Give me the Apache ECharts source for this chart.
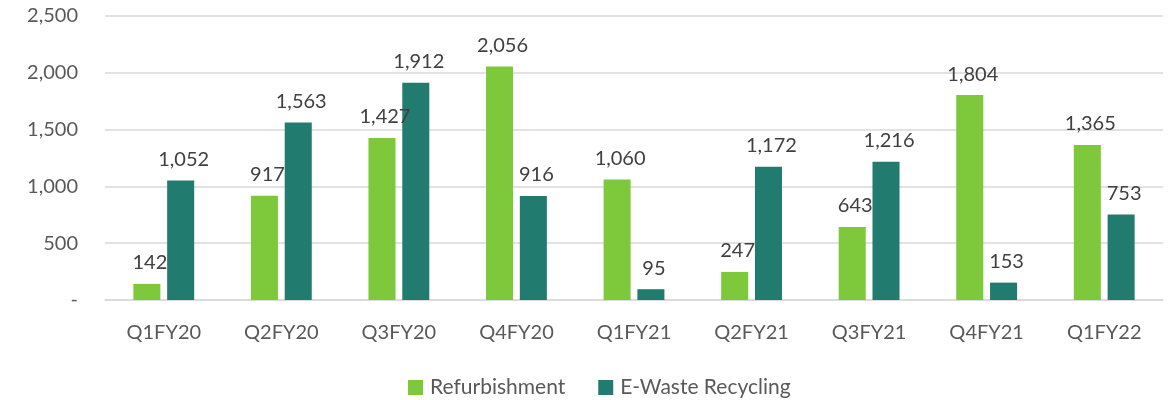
<!DOCTYPE html>
<html><head><meta charset="utf-8">
<script src="https://cdn.jsdelivr.net/npm/echarts@6/dist/echarts.min.js"></script>
<style>html,body{margin:0;padding:0;background:#fff}#c{width:1171px;height:400px}</style>
</head><body><div id="c"></div>
<script>
const categories = ['Q1FY20','Q2FY20','Q3FY20','Q4FY20','Q1FY21','Q2FY21','Q3FY21','Q4FY21','Q1FY22'];
const refurbishment = [142, 917, 1427, 2056, 1060, 247, 643, 1804, 1365];
const eWasteRecycling = [1052, 1563, 1912, 916, 95, 1172, 1216, 153, 753];
const seriesNames = ['Refurbishment', 'E-Waste Recycling'];

const fmt = v => v === 0 ? '-' : v.toLocaleString('en-US');
const font = 'Lato, "Open Sans", sans-serif';
const chart = echarts.init(document.getElementById('c'));
chart.setOption({
  animation: false,
  textStyle: { fontFamily: font },
  grid: { left: 105, right: 8, top: 16, bottom: 100 },
  legend: {
    left: 403, top: 372, itemWidth: 15, itemHeight: 15, itemGap: 33, icon: 'rect',
    textStyle: { fontSize: 21, color: '#595959', fontFamily: font, padding: [0, 0, 0, 2] },
    data: seriesNames
  },
  xAxis: {
    type: 'category', data: categories,
    axisLine: { lineStyle: { color: '#d9d9d9', width: 1.5 } },
    axisTick: { show: false },
    axisLabel: { fontSize: 20, color: '#595959', margin: 23 }
  },
  yAxis: {
    type: 'value', min: 0, max: 2500, interval: 500,
    axisLine: { show: false }, axisTick: { show: false },
    splitLine: { lineStyle: { color: '#d9d9d9', width: 1.5 } },
    axisLabel: { fontSize: 20, color: '#595959', margin: 27, formatter: fmt }
  },
  series: [
    { name: seriesNames[0], type: 'bar', data: refurbishment, barWidth: '23%', barGap: '25%',
      itemStyle: { color: '#7dc93b' },
      label: { show: true, position: 'top', distance: 11, offset: [3, 0], fontSize: 20, color: '#404040', formatter: p => fmt(p.value) } },
    { name: seriesNames[1], type: 'bar', data: eWasteRecycling, barWidth: '23%', barGap: '25%',
      itemStyle: { color: '#217c6f' },
      label: { show: true, position: 'top', distance: 11, offset: [3, 0], fontSize: 20, color: '#404040', formatter: p => fmt(p.value) } }
  ]
});
</script></body></html>
